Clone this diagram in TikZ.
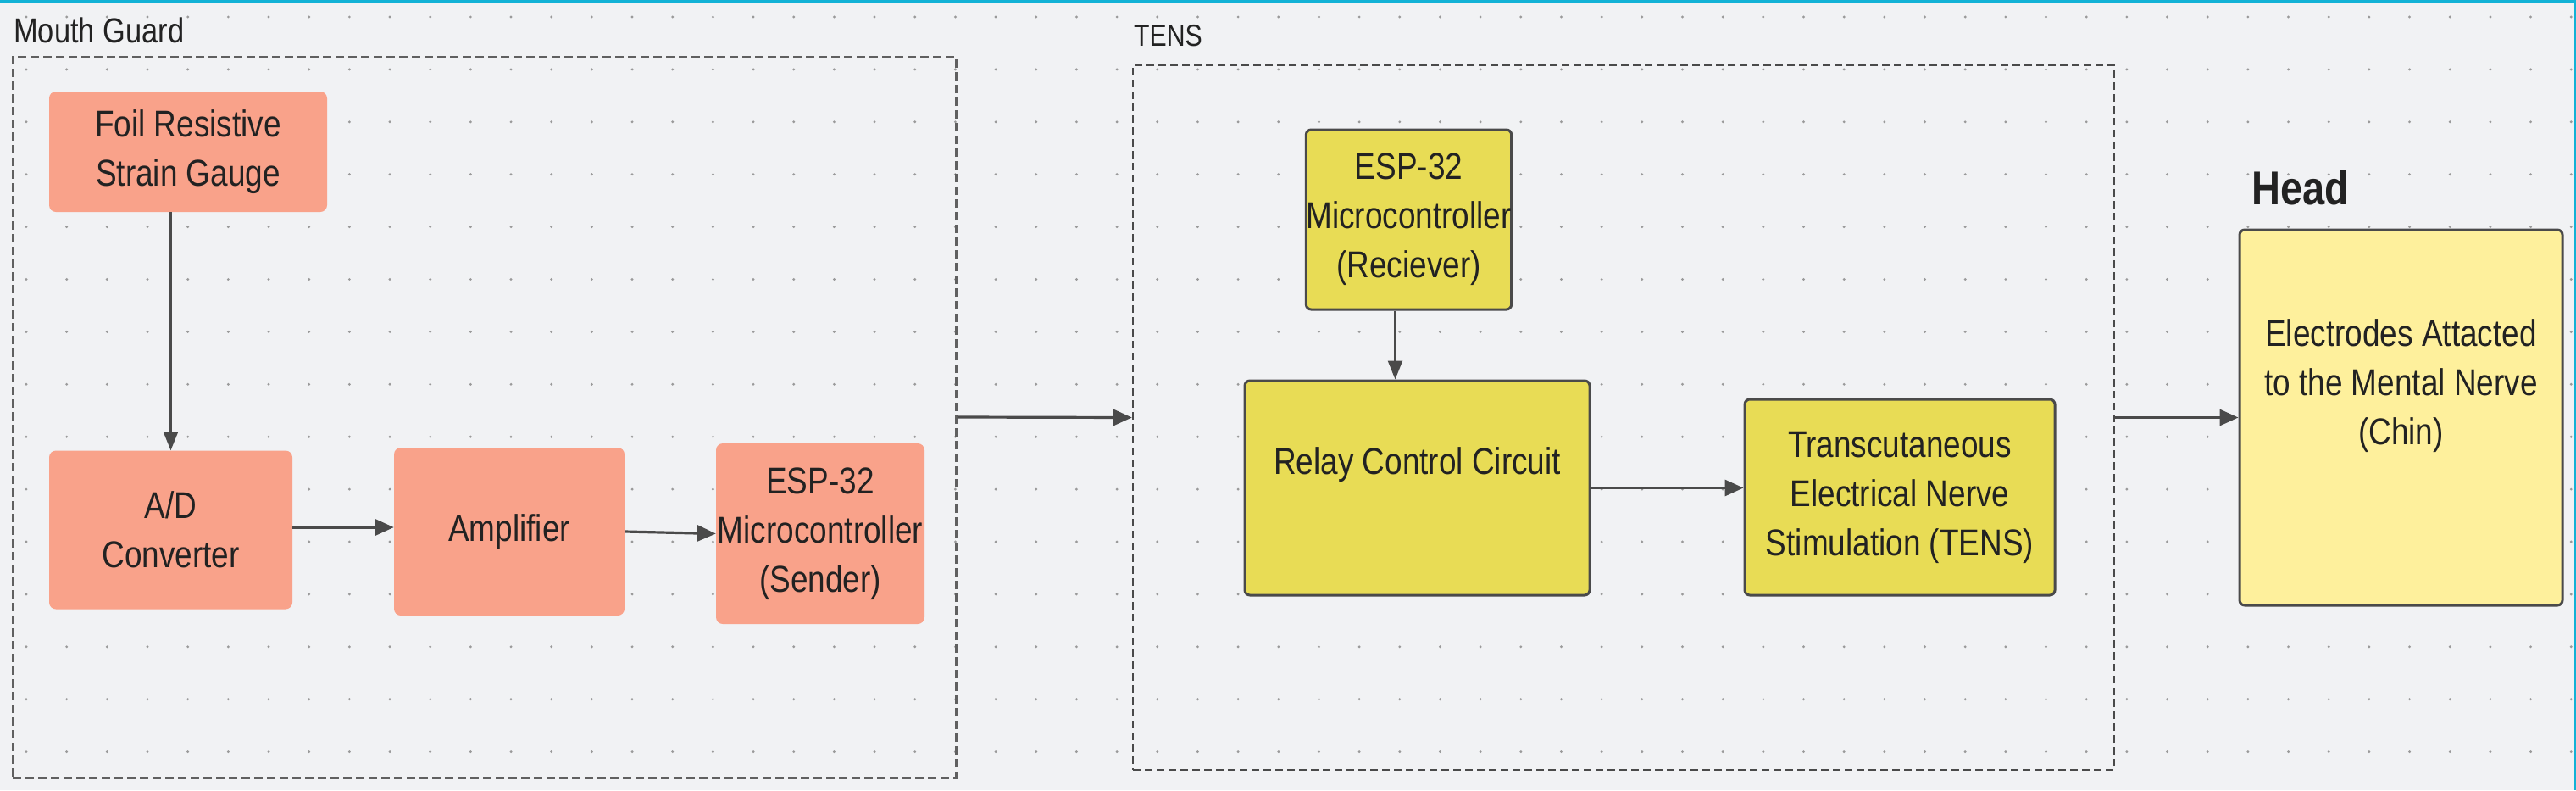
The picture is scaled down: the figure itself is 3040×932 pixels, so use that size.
\documentclass[tikz,border=0pt]{standalone}
\usepackage{fontspec}
\setmainfont{Liberation Sans}[FakeStretch=0.84]
\usetikzlibrary{arrows.meta}
\definecolor{bg}{HTML}{F1F2F4}
\definecolor{topline}{HTML}{12B2D6}
\definecolor{salmon}{HTML}{F9A28A}
\definecolor{ybox}{HTML}{E8DC55}
\definecolor{lybox}{HTML}{FEF09C}
\definecolor{edge}{HTML}{4A4A4A}
\definecolor{txtc}{HTML}{222222}
\definecolor{dotc}{HTML}{9A9A9A}
\tikzset{
  bodytext/.style={font=\fontsize{44}{58}\selectfont, text=txtc, align=center},
  sbox/.style={fill=salmon, draw=none, rounded corners=8pt, bodytext},
  yboxst/.style={fill=ybox, draw=edge, line width=3pt, rounded corners=6pt, bodytext},
  lyboxst/.style={fill=lybox, draw=edge, line width=3pt, rounded corners=6pt, bodytext},
  grp/.style={draw=#1, inner sep=0pt, fill=none},
  grplabel/.style={inner sep=0pt, anchor=base west, text=txtc},
  conn/.style={draw=edge, line width=3.2pt, -{Triangle[length=22pt,width=19pt]}},
  thinconn/.style={draw=edge, line width=2.4pt, -{Triangle[length=22pt,width=17pt]}}
}
\begin{document}
\begin{tikzpicture}[x=1pt,y=-1pt]
\useasboundingbox (0,0) rectangle (3040,932);
\fill[bg] (0,0) rectangle (3040,932);
\fill[topline] (0,0) rectangle (3040,4);
\fill[topline] (3038,0) rectangle (3040,932);
% dot grid
\foreach \i in {0,...,63}{
  \foreach \j in {0,...,14}{
    \fill[dotc] ({31+47.67*\i},{20+61.9*\j}) circle (1.6pt);
  }
}
% group containers
\node[grp=gray!75!black, line width=3pt, dash pattern=on 10pt off 5pt,
      minimum width=1113pt, minimum height=850pt] (mg) at (571.5,492) {};
\node[grp=edge, line width=2.4pt, dash pattern=on 9pt off 5pt,
      minimum width=1158pt, minimum height=831pt] (tens) at (1916,492.5) {};
% group labels
\node[grplabel, font=\fontsize{41}{46}\selectfont] (mglabel) at (16,50) {Mouth Guard};
\node[grplabel, font=\fontsize{36}{42}\selectfont] (tenslabel) at (1338,54) {TENS};
\node[grplabel, font=\bfseries\fontsize{56}{62}\selectfont] (headlabel) at (2657,241) {Head};
% mouth guard blocks
\node[sbox, minimum width=328pt, minimum height=142pt] (foil) at (222,179) {Foil Resistive\\Strain Gauge};
\node[sbox, minimum width=287pt, minimum height=187pt] (ad) at (201.5,625) {A/D\\Converter};
\node[sbox, minimum width=272pt, minimum height=198pt] (amp) at (601,627) {Amplifier};
\node[sbox, minimum width=246pt, minimum height=213pt, inner xsep=0pt] (snd) at (968,629.5) {ESP-32\\Microcontroller\\(Sender)};
% TENS blocks
\node[yboxst, minimum width=239pt, minimum height=212pt, inner xsep=0pt] (rec) at (1662.5,259) {ESP-32\\Microcontroller\\(Reciever)};
\node[yboxst, minimum width=407pt, minimum height=253pt,
      label={[bodytext, yshift=27pt]center:Relay Control Circuit}] (relay) at (1672.5,575.5) {};
\node[yboxst, minimum width=366pt, minimum height=231pt] (stim) at (2242,586.5) {Transcutaneous\\Electrical Nerve\\Stimulation (TENS)};
% head block
\node[lyboxst, minimum width=381pt, minimum height=443pt,
      label={[bodytext, yshift=37pt]center:Electrodes Attacted\\to the Mental Nerve\\(Chin)}] (elec) at (2833.5,492.5) {};
% connectors
\draw[thinconn] (foil.south -| ad.north) -- (ad.north);
\draw[conn] ([yshift=3pt]ad.east) -- ([yshift=3pt]ad.east -| amp.west);
\draw[conn] (amp.east) -- (snd.west);
\draw[conn] (mg.east) -- (tens.west);
\draw[thinconn] ([xshift=-16pt]rec.south) -- ([xshift=-16pt]rec.south |- relay.north);
\draw[conn] (relay.east) -- (relay.east -| stim.west);
\draw[conn] (tens.east) -- (elec.west);
\end{tikzpicture}
\end{document}
